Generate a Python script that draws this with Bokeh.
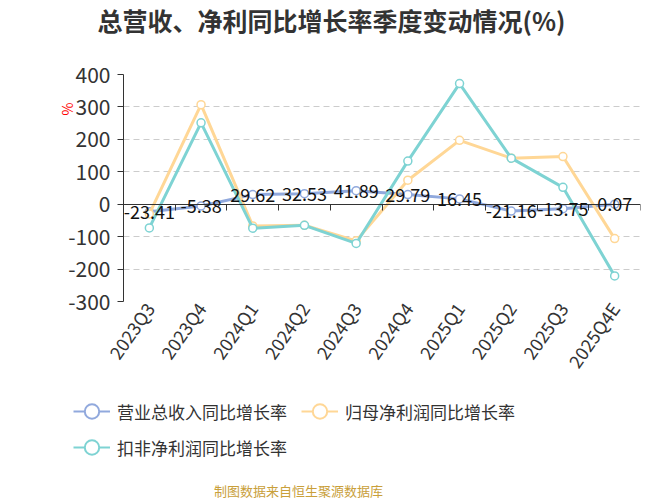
import math
from bokeh.plotting import figure
from bokeh.layouts import column
from bokeh.models import (ColumnDataSource, FixedTicker, LinearAxis, Legend,
                          LegendItem, LabelSet, Label, Range1d, Title)
from bokeh.core.properties import value
from bokeh.embed import file_html
from bokeh.resources import INLINE

quarters = ["2023Q3", "2023Q4", "2024Q1", "2024Q2", "2024Q3",
            "2024Q4", "2025Q1", "2025Q2", "2025Q3", "2025Q4E"]
revenue = [-23.41, -5.38, 29.62, 32.53, 41.89, 29.79, 16.45, -21.16, -13.75, 0.07]
net_profit = [-30, 307, -67, -65, -113, 74, 197, 142, 147, -106]
deducted = [-73, 251, -74, -65, -121, 133, 372, 142, 52, -221]
revenue_labels = ["-23.41", "-5.38", "29.62", "32.53", "41.89",
                  "29.79", "16.45", "-21.16", "-13.75", "0.07"]
y_ticks = [-300, -200, -100, 0, 100, 200, 300, 400]
series_names = ["营业总收入同比增长率", "归母净利润同比增长率", "扣非净利润同比增长率"]
title_text = "总营收、净利同比增长率季度变动情况(%)"
footer_text = "制图数据来自恒生聚源数据库"

FONT = "Noto Sans CJK SC"
C_BLUE = "#91a9dd"
C_ORANGE = "#ffd796"
C_TEAL = "#7ed3d3"
COLORS = [C_BLUE, C_ORANGE, C_TEAL]
W = 667


def bare(height, ymax):
    f = figure(width=W, height=height, output_backend="svg", toolbar_location=None,
               x_range=Range1d(0, W), y_range=Range1d(ymax, 0),
               x_axis_location=None, y_axis_location=None)
    f.min_border = 0
    f.min_border_left = 0
    f.min_border_right = 0
    f.min_border_top = 0
    f.min_border_bottom = 0
    f.frame_align = False
    f.outline_line_color = None
    f.grid.visible = False
    return f


# ---------- title strip ----------
pt = bare(40, 40)
pt.add_layout(Label(x=331, y=19, text=title_text, text_align="center",
                    text_baseline="middle", text_font=FONT, text_font_size="25px",
                    text_font_style="bold", text_color="#333333"))

# ---------- chart ----------
xs = list(range(len(quarters)))
src = ColumnDataSource(dict(x=xs, rev=revenue, net=net_profit, ded=deducted,
                            lab=revenue_labels))

p = figure(width=W, height=352, output_backend="svg", toolbar_location=None,
           x_range=Range1d(-0.5, len(quarters) - 0.5), y_range=Range1d(-300, 400),
           x_axis_location=None, y_axis_location=None)
p.min_border_left = 123
p.min_border_right = 27
p.min_border_top = 34
p.min_border_bottom = 91
p.frame_align = False
p.outline_line_color = None
p.xgrid.visible = False

yax = LinearAxis(ticker=FixedTicker(ticks=y_ticks),
                 major_label_overrides={t: str(t) for t in y_ticks})
yax.axis_line_color = "#333333"
yax.major_tick_line_color = "#333333"
yax.major_tick_out = 6
yax.major_tick_in = 0
yax.minor_tick_line_color = None
yax.major_label_text_font = FONT
yax.major_label_text_font_size = "21px"
yax.major_label_text_color = "#333333"
yax.major_label_standoff = 7
p.add_layout(yax, "left")

p.add_layout(Title(text="%", align="right", offset=28, text_color="#ff0000",
                   text_font=FONT, text_font_size="14px", text_font_style="normal",
                   standoff=-22), "left")

p.ygrid.ticker = FixedTicker(ticks=[t for t in y_ticks if t != 0])
p.ygrid.grid_line_color = "#cccccc"
p.ygrid.grid_line_dash = "6 4"

bounds = [i - 0.5 for i in range(len(quarters) + 1)]
zax = LinearAxis(ticker=FixedTicker(ticks=bounds), fixed_location=0,
                 major_label_overrides={b: "" for b in bounds})
zax.axis_line_color = "#333333"
zax.major_tick_line_color = "#333333"
zax.major_tick_out = 6
zax.major_tick_in = 0
zax.major_label_standoff = 0
zax.minor_tick_line_color = None
p.add_layout(zax, "below")

xax = LinearAxis(ticker=FixedTicker(ticks=xs),
                 major_label_overrides={i: q for i, q in enumerate(quarters)})
xax.axis_line_color = None
xax.major_tick_line_color = None
xax.minor_tick_line_color = None
xax.major_tick_out = 0
xax.major_tick_in = 0
xax.major_label_orientation = math.radians(55)
xax.major_label_text_font = FONT
xax.major_label_text_font_size = "18px"
xax.major_label_text_color = "#333333"
xax.major_label_standoff = 3
p.add_layout(xax, "below")

for col, c in zip(["rev", "net", "ded"], COLORS):
    p.line("x", col, source=src, line_color=c, line_width=3)
    p.scatter("x", col, source=src, size=8, fill_color="white", line_color=c,
              line_width=1.5)

p.add_layout(LabelSet(x="x", y="rev", text="lab", source=src, text_align="center",
                      text_baseline="middle", text_font=value(FONT),
                      text_font_size="18px", text_color="#111111"))

# ---------- legend + footer strip ----------
pl = bare(108, 108)
offscreen = ColumnDataSource(dict(x=[-1000, -999], y=[-1000, -1000]))
items = []
for name, c in zip(series_names, COLORS):
    lr = pl.line("x", "y", source=offscreen, line_color=c, line_width=2)
    sr = pl.scatter("x", "y", source=offscreen, size=17, fill_color="white",
                    line_color=c, line_width=2)
    items.append(LegendItem(label=name, renderers=[lr, sr], index=0))
leg = Legend(items=items, ncols=2, location=(73, 35), orientation="horizontal")
leg.label_text_font = FONT
leg.label_text_font_size = "17px"
leg.label_text_color = "#333333"
leg.glyph_width = 37
leg.glyph_height = 36
leg.label_standoff = 7
leg.label_width = 184
leg.spacing = -2
leg.padding = 0
leg.margin = 0
leg.border_line_color = None
leg.background_fill_alpha = 0
pl.add_layout(leg, "center")

pl.add_layout(Label(x=298, y=98, text=footer_text, text_align="center",
                    text_baseline="middle", text_font=FONT, text_font_size="13px",
                    text_color="#c9a03a"))

open("out.html", "w").write(file_html(column(pt, p, pl, spacing=0), INLINE))
